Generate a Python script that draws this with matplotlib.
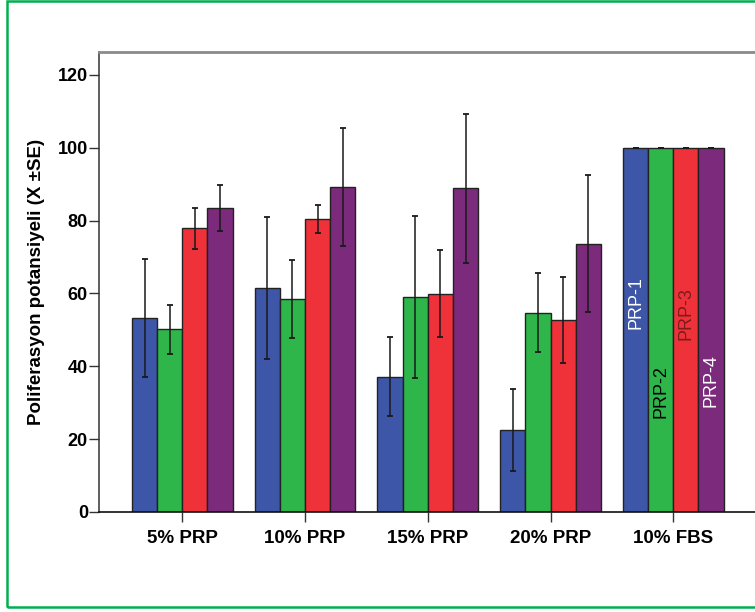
import numpy as np
import matplotlib
matplotlib.use('Agg')
from matplotlib import pyplot as plt
from matplotlib.patches import Rectangle

plt.rcParams['font.family'] = ['Liberation Sans', 'DejaVu Sans']
plt.rcParams['font.weight'] = 'bold'

groups = ['5% PRP', '10% PRP', '15% PRP', '20% PRP', '10% FBS']
series = ['PRP-1', 'PRP-2', 'PRP-3', 'PRP-4']

# mean proliferation potential per group
prp1 = [53.2, 61.5, 37.2, 22.5, 100]
prp2 = [50.2, 58.5, 59.1, 54.7, 100]
prp3 = [77.9, 80.4, 59.9, 52.7, 100]
prp4 = [83.5, 89.3, 88.9, 73.6, 100]

# standard errors
se1 = [16.2, 19.5, 10.8, 11.3, 0]
se2 = [6.7, 10.7, 22.2, 10.9, 0]
se3 = [5.6, 3.8, 11.9, 11.7, 0]
se4 = [6.4, 16.2, 20.5, 18.8, 0]

yticks = [0, 20, 40, 60, 80, 100, 120]

means = [prp1, prp2, prp3, prp4]
errs = [se1, se2, se3, se4]
colors = ['#3d56a8', '#2eb64a', '#ef3239', '#7c2a7c']
label_colors = ['white', 'black', '#7e1a1d', 'white']
label_y = [57.5, 33.2, 54.4, 36.2]

fig = plt.figure(figsize=(7.55, 6.12), dpi=100)
ax = fig.add_axes([99 / 755, 100 / 612, 656 / 755, 460 / 612])

x = np.arange(len(groups))
w = 0.205
for i in range(4):
    pos = x + (i - 1.5) * w
    ax.bar(pos, means[i], width=w, color=colors[i], edgecolor='#222222',
           linewidth=1.0, zorder=2)
    ax.errorbar(pos, means[i], yerr=errs[i], fmt='none', ecolor='#1a1a1a',
                elinewidth=1.1, capsize=2.3, capthick=1.3, zorder=3)
    # series name written inside the FBS bars
    ax.text(pos[-1], label_y[i], series[i], rotation=90, ha='center', va='center',
            color=label_colors[i], fontsize=13, fontweight='normal', zorder=4)

ax.set_xlim(-0.679, 4.666)
ax.set_ylim(0, 126.3)
ax.set_yticks(yticks)
ax.set_xticks(x)
ax.set_xticklabels(groups)

ax.spines['right'].set_visible(False)
ax.spines['top'].set_color('#8a8a8a')
ax.spines['top'].set_linewidth(2.0)
ax.spines['left'].set_color('#333333')
ax.spines['left'].set_linewidth(1.1)
ax.spines['bottom'].set_color('#111111')
ax.spines['bottom'].set_linewidth(1.2)

ax.tick_params(axis='y', length=7, width=1.0, pad=1, labelsize=13, color='#333333')
ax.tick_params(axis='x', length=7, width=1.0, pad=6, labelsize=13.5, color='#333333')

fig.text(36.5 / 755, 1 - 281.5 / 612, 'Poliferasyon potansiyeli (X \u00b1SE)',
         rotation=90, ha='center', va='center', fontsize=13.5)

# green frame around the figure
fig.patches.append(Rectangle((7 / 755, 5 / 612), 1.2, 1 - 6 / 612,
                             transform=fig.transFigure, fill=False,
                             edgecolor='#00b050', linewidth=1.8, clip_on=False))

fig.savefig('out.png', dpi=100)
